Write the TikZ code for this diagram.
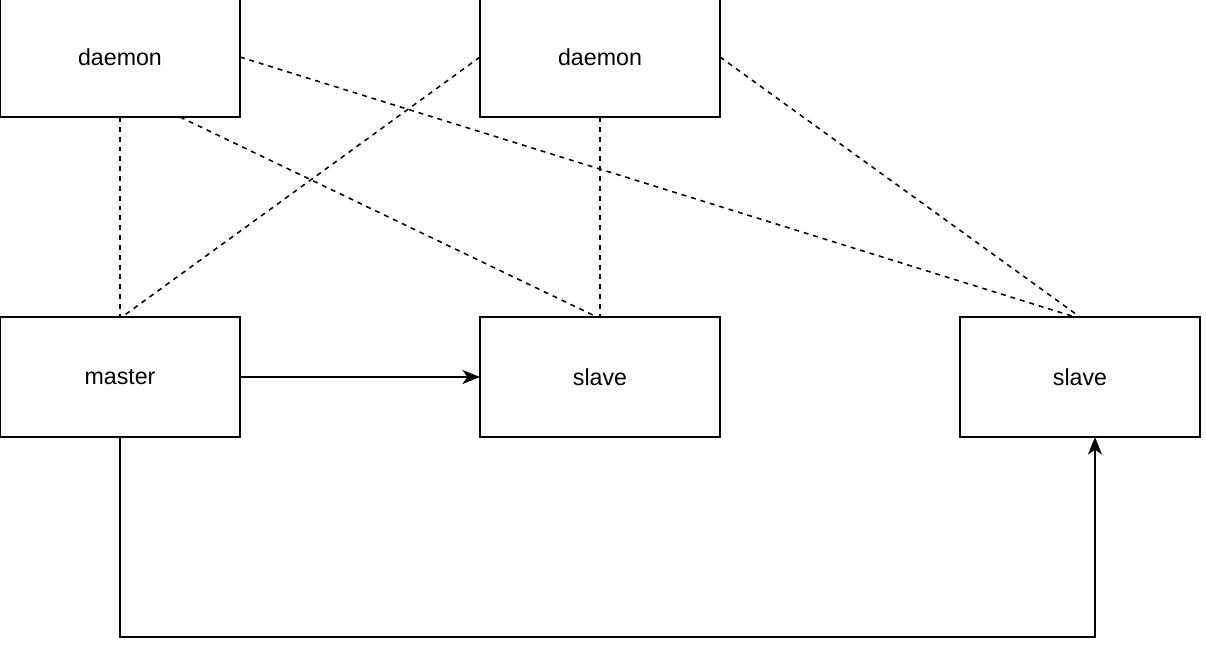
\documentclass[tikz,border=0pt]{standalone}
\usepackage{fontspec}
\setmainfont{Liberation Sans}
\usetikzlibrary{positioning,arrows.meta,calc}
\tikzset{
  box/.style={draw, line width=1.3pt, outer sep=0pt, minimum width=6cm, minimum height=3cm, font=\fontsize{16.5}{20}\selectfont},
  link/.style={dashed, dash pattern=on 3.5pt off 3.5pt, line width=1.1pt},
  flow/.style={line width=1.2pt, -{Stealth[length=12.5pt, width=10pt, inset=3.5pt]}}
}
\begin{document}
\begin{tikzpicture}[node distance=5cm and 6cm]
\useasboundingbox (0,0) rectangle (30.15,-16.5);
\clip (0,0) rectangle (30.15,-16.5);
\node[box] (d1) at (3,-1.425) {daemon};
\node[box, right=of d1] (d2) {daemon};
\node[box, below=of d1] (m) {master};
\node[box, below=of d2] (s1) {slave};
\node[box, right=of s1] (s2) {slave};
% daemon links
\draw[link] (d1.south) -- (m.north);
\draw[link] ($(d1.south)!0.5!(d1.south east)$) -- ([xshift=-0.075cm]s1.north);
\draw[link] (d1.east) -- ([xshift=-0.125cm]s2.north);
\draw[link] (d2.west) -- ([xshift=0.05cm]m.north);
\draw[link] (d2.south) -- (s1.north);
\draw[link] (d2.east) -- (s2.north);
% replication
\draw[flow] (m.east) -- (s1.west);
\draw[flow] (m.south) -- ++(0,-5) -| ([xshift=0.375cm]s2.south);
\end{tikzpicture}
\end{document}
